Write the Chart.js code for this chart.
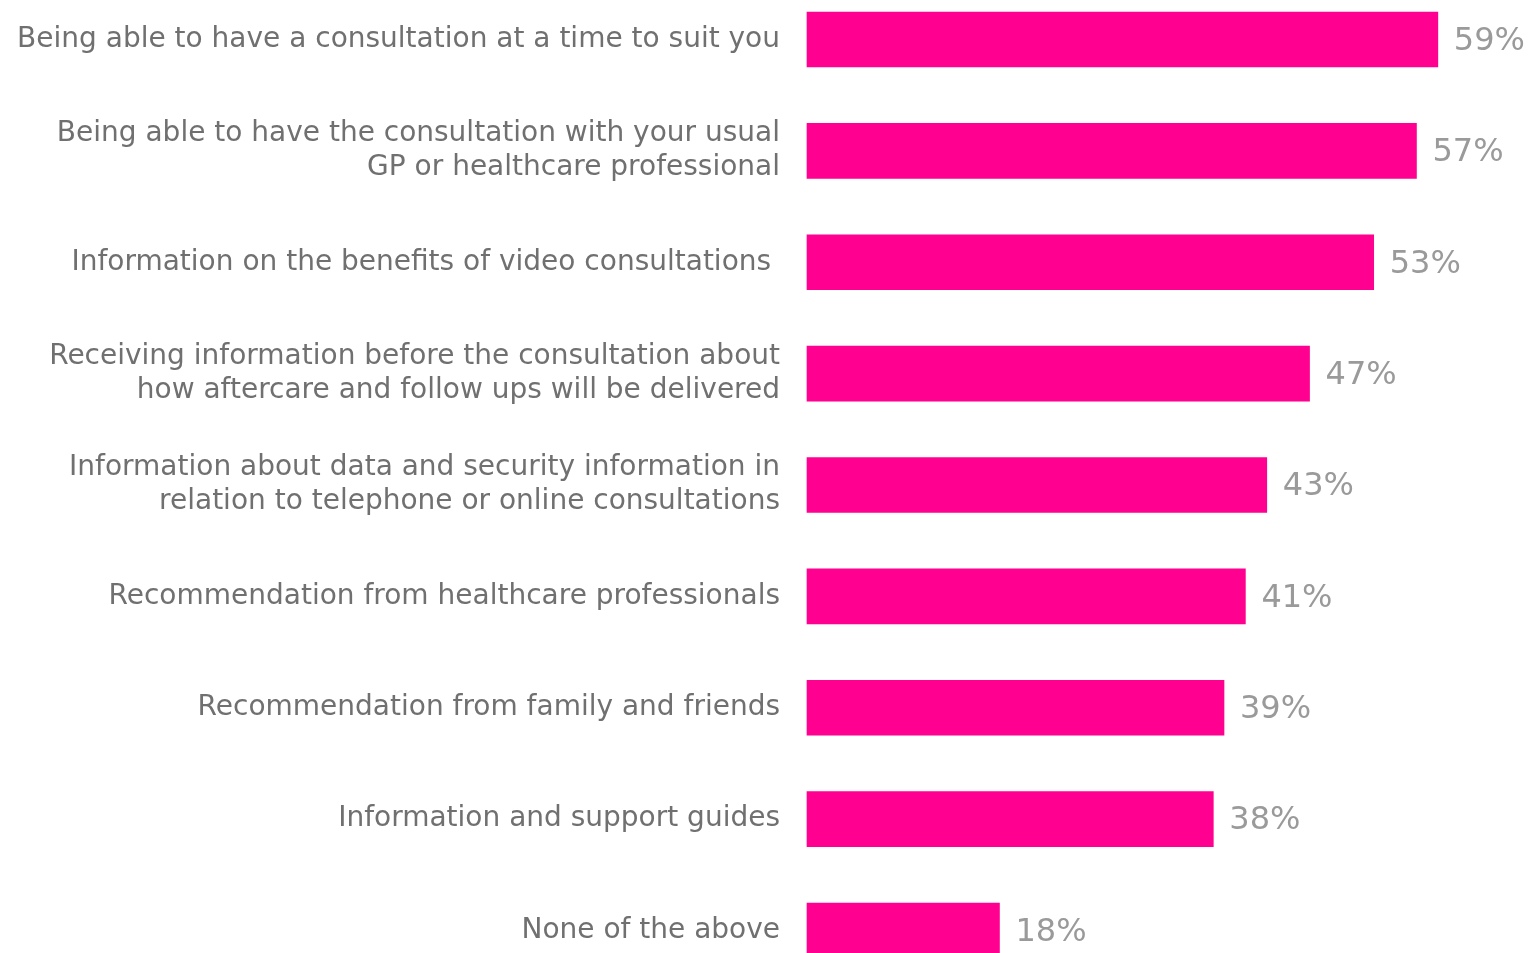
<!DOCTYPE html>
<html>
<head>
<meta charset="utf-8">
<script src="https://cdn.jsdelivr.net/npm/chart.js@4"></script>
<style>
  html, body { margin: 0; padding: 0; background: #fff; overflow: hidden; }
  body { width: 1530px; height: 953px; position: relative; }
  #wrap { width: 1530px; height: 1090px; position: absolute; left: 0; top: -60px; }
</style>
</head>
<body>
<div id="wrap"><canvas id="chart"></canvas></div>
<script>
const categories = [
  "Being able to have a consultation at a time to suit you",
  ["Being able to have the consultation with your usual", "GP or healthcare professional"],
  "Information on the benefits of video consultations ",
  ["Receiving information before the consultation about", "how aftercare and follow ups will be delivered"],
  ["Information about data and security information in", "relation to telephone or online consultations"],
  "Recommendation from healthcare professionals",
  "Recommendation from family and friends",
  "Information and support guides",
  "None of the above"
];
const percentages = [59, 57, 53, 47, 43, 41, 39, 38, 18];

const barColor = "#FF0090";
const labelFont = "DejaVu Sans";

// draws the "59%" style numbers after each bar
const valueLabels = {
  id: "valueLabels",
  afterDatasetsDraw(chart) {
    const ctx = chart.ctx;
    const meta = chart.getDatasetMeta(0);
    ctx.save();
    ctx.font = "32px " + labelFont;
    ctx.fillStyle = "#9a9a9a";
    ctx.textAlign = "left";
    ctx.textBaseline = "middle";
    meta.data.forEach((bar, i) => {
      ctx.fillText(percentages[i] + "%", bar.x + 16, bar.y + 2);
    });
    ctx.restore();
  }
};

new Chart(document.getElementById("chart"), {
  type: "bar",
  data: {
    labels: categories,
    datasets: [{
      data: percentages,
      backgroundColor: barColor,
      barThickness: 55,
      clip: false
    }]
  },
  options: {
    indexAxis: "y",
    responsive: true,
    maintainAspectRatio: false,
    animation: false,
    layout: { padding: { top: 0, bottom: 0, right: 28, left: 0 } },
    plugins: { legend: { display: false }, tooltip: { enabled: false } },
    scales: {
      x: { display: false, min: 0, max: 65 },
      y: {
        offset: true,
        grid: { display: false, drawTicks: false },
        border: { display: false },
        afterFit(scale) { scale.width = 807; },
        ticks: {
          autoSkip: false,
          padding: 27,
          color: "#707070",
          font: { family: labelFont, size: 28, lineHeight: 1.2 }
        }
      }
    }
  },
  plugins: [valueLabels]
});
</script>
</body>
</html>
